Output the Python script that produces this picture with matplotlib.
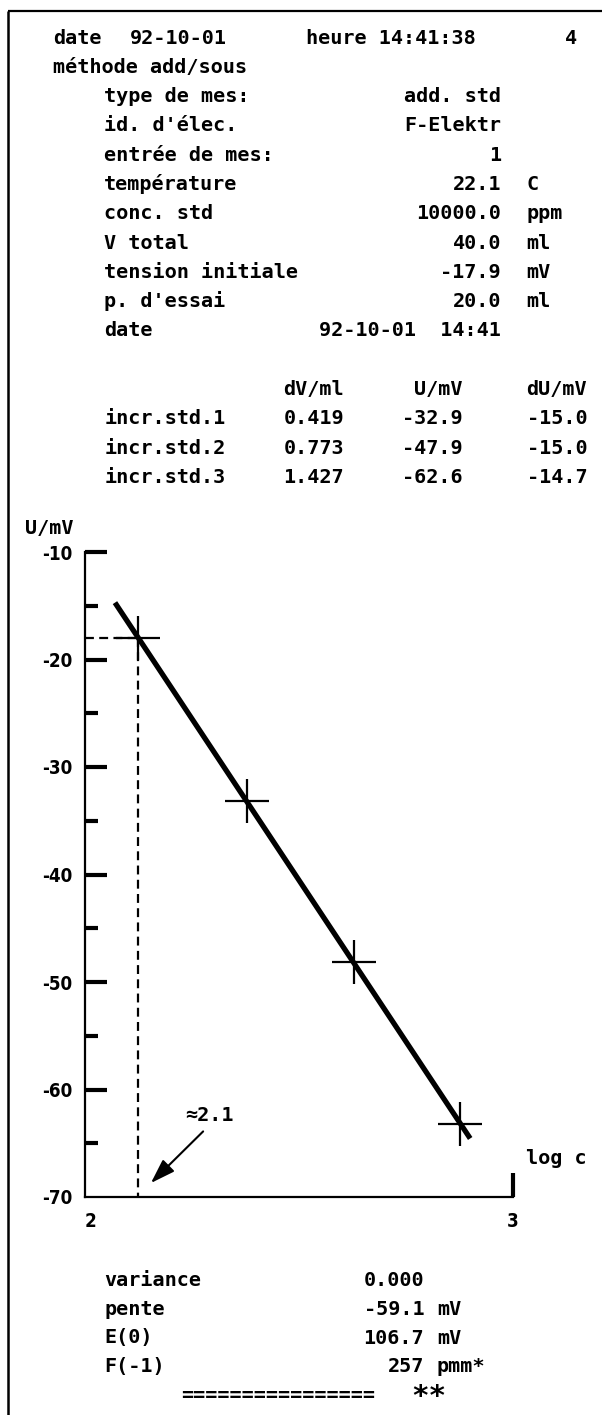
import numpy as np
import matplotlib.pyplot as plt

log_c = [2.124, 2.378, 2.628, 2.876]
u_mv = [-18.0, -33.2, -48.1, -63.2]
droite_x = [2.07, 2.90]
approx_txt = "≈2.1"

entete = ["date", "92-10-01", "heure 14:41:38", "4"]
methode = "méthode add/sous"
param_noms = ["type de mes:", "id. d'élec.", "entrée de mes:", "température", "conc. std",
              "V total", "tension initiale", "p. d'essai", "date"]
param_vals = ["add. std", "F-Elektr", "1", "22.1", "10000.0", "40.0", "-17.9", "20.0", "92-10-01  14:41"]
param_unites = ["", "", "", "C", "ppm", "ml", "mV", "ml", ""]

col_titres = ["dV/ml", "U/mV", "dU/mV"]
incr_noms = ["incr.std.1", "incr.std.2", "incr.std.3"]
incr_dv = ["0.419", "0.773", "1.427"]
incr_u = ["-32.9", "-47.9", "-62.6"]
incr_du = ["-15.0", "-15.0", "-14.7"]

stat_noms = ["variance", "pente", "E(0)", "F(-1)"]
stat_vals = ["0.000", "-59.1", "106.7", "257"]
stat_unites = ["", "mV", "mV", "pmm*"]

yticks_maj = [-70, -60, -50, -40, -30, -20, -10]
yticks_min = [-65, -55, -45, -35, -25, -15]

W, H = 602, 1415
fig = plt.figure(figsize=(W / 100, H / 100), dpi=100)

# calque en pixels pour le texte du ticket
ov = fig.add_axes([0, 0, 1, 1])
ov.set_xlim(0, W)
ov.set_ylim(H, 0)
ov.axis("off")

MONO = dict(family="DejaVu Sans Mono", weight="bold", fontsize=14.5, color="black")
X0, CW = 53, 12.8


def colx(c):
    return X0 + c * CW


def put(y, c, s, droite=False, **kw):
    opts = dict(MONO)
    opts.update(kw)
    if droite:
        ov.text(colx(c + 1), y, s, ha="right", va="baseline", **opts)
    else:
        ov.text(colx(c), y, s, ha="left", va="baseline", **opts)


def yb(i):
    return 43.5 + 29.3 * i


# cadre
ov.plot([8, 8], [11, H], color="black", lw=1.8, solid_capstyle="butt")
ov.plot([8, W], [11, 11], color="black", lw=1.6, solid_capstyle="butt")

put(yb(0), 0, entete[0])
put(yb(0), 6, entete[1])
put(yb(0), 32, entete[2], droite=True)
put(yb(0), 40, entete[3])
put(yb(1), 0, methode)
for i, (n, v, u) in enumerate(zip(param_noms, param_vals, param_unites)):
    r = yb(2 + i)
    put(r, 4, n)
    put(r, 34, v, droite=True)
    if u:
        put(r, 37, u)

put(yb(12), 18, col_titres[0])
put(yb(12), 31, col_titres[1], droite=True)
put(yb(12), 37, col_titres[2])
for i in range(3):
    r = yb(13 + i)
    put(r, 4, incr_noms[i])
    put(r, 18, incr_dv[i])
    put(r, 31, incr_u[i], droite=True)
    put(r, 37, incr_du[i])

for i, (n, v, u) in enumerate(zip(stat_noms, stat_vals, stat_unites)):
    r = 1286.5 + 28.5 * i
    put(r, 4, n)
    put(r, 28, v, droite=True)
    if u:
        put(r, 30, u)
put(1286.5 + 28.5 * 4, 10, "=" * 16)
put(1405, 28, "**", fontsize=21)

ov.text(73, 528, "U/mV", ha="right", va="center", **MONO)
ov.text(526, 1158, "log c", ha="left", va="center", **MONO)

# ---- graphique ----
ax = fig.add_axes([85 / W, (H - 1197) / H, (513 - 85) / W, (1197 - 552) / H])
ax.patch.set_alpha(0)
ax.set_xlim(2, 3)
ax.set_ylim(-70, -10)
for s in ["top", "right"]:
    ax.spines[s].set_visible(False)
for s in ["left", "bottom"]:
    ax.spines[s].set_linewidth(1.6)

TICKF = dict(family="DejaVu Sans", stretch="condensed", weight="bold", size=13.5)
ax.set_yticks(yticks_maj)
ax.set_yticklabels([str(v) for v in yticks_maj], **TICKF)
ax.set_yticks(yticks_min, minor=True)
ax.tick_params(axis="y", which="major", direction="in", length=16, width=3, pad=9)
ax.tick_params(axis="y", which="minor", direction="in", length=9, width=3)
ax.yaxis.get_major_ticks()[0].tick1line.set_visible(False)
ax.set_xticks([2, 3])
ax.set_xticklabels(["2", "3"], **TICKF)
ax.tick_params(axis="x", which="major", direction="in", length=17, width=3, pad=11)
ax.xaxis.get_major_ticks()[0].tick1line.set_visible(False)
ax.get_xticklabels()[0].set_ha("left")

coef = np.polyfit(log_c, u_mv, 1)
ax.plot(droite_x, np.polyval(coef, droite_x), color="black", lw=3.8, solid_capstyle="butt")
ax.plot(log_c, u_mv, ls="none", marker="+", ms=32, mew=1.6, color="black")

dash = (0, (4, 2.4))
ax.plot([2, log_c[0]], [u_mv[0], u_mv[0]], color="black", lw=1.6, ls=dash, clip_on=False)
ax.plot([log_c[0], log_c[0]], [u_mv[0], -70], color="black", lw=1.6, ls=dash, clip_on=False)

ax.annotate("", xy=(2.154, -68.7), xytext=(2.276, -63.9),
            arrowprops=dict(arrowstyle="-|>,head_length=0.75,head_width=0.25", mutation_scale=20,
                            lw=1.5, color="black", shrinkA=0, shrinkB=0))
ax.text(2.234, -62.4, approx_txt, ha="left", va="center", **MONO)

fig.savefig("out.png", dpi=100)
